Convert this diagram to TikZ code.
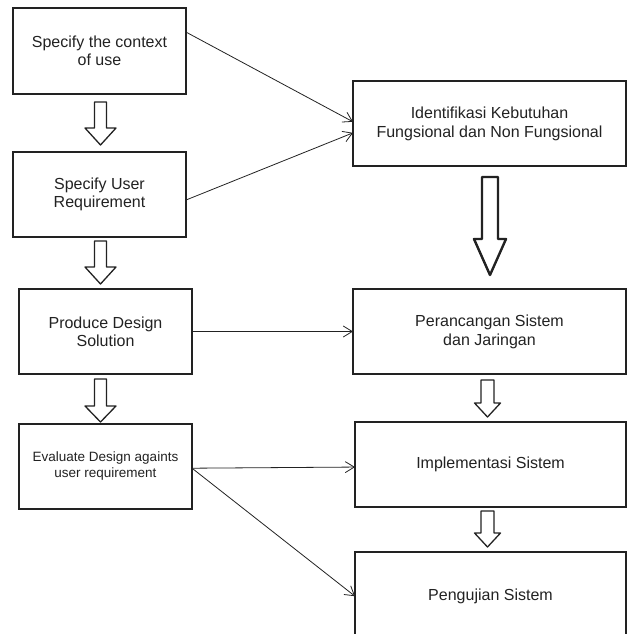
\documentclass[tikz,border=0pt]{standalone}
\usepackage{fontspec}
\setmainfont{Liberation Sans}
\usetikzlibrary{arrows.meta,calc}
\definecolor{ink}{HTML}{222222}
\newcommand\blockarr[7]{% cx, top, headstart, tip, shaft half, head half, line width
  \draw[line width=#7, draw=ink, fill=white, line join=round]
    (#1-#5,#2) -- (#1+#5,#2) -- (#1+#5,#3) -- (#1+#6,#3) -- (#1,#4)
    -- (#1-#6,#3) -- (#1-#5,#3) -- cycle;}
\tikzset{
  box/.style={draw=ink, line width=1.2pt, fill=white, inner sep=0pt, outer sep=0pt,
    align=center, text=ink, minimum height=85pt},
  lbox/.style={box, minimum width=173pt, font=\fontsize{16}{18}\selectfont},
  sbox/.style={box, minimum width=173pt, font=\fontsize{13.5}{16}\selectfont},
  rbox/.style={box, font=\fontsize{16}{19}\selectfont},
  conn/.style={draw=ink, line width=0.8pt, -{Straight Barb[length=9pt,width=11pt,line width=0.8pt]}}
}
\begin{document}
\begin{tikzpicture}[x=1pt,y=-1pt]
\useasboundingbox (0,0) rectangle (627,634);
\clip (0,0) rectangle (627,634);
% left column
\node[lbox, minimum height=86pt] (b1) at (99.5,51) {Specify the context\\of use};
\node[lbox] (b2) at (99.5,194.5) {Specify User\\Requirement};
\node[lbox] (b3) at (105.5,331.5) {Produce Design\\Solution};
\node[sbox] (b4) at (105.5,466.5) {Evaluate Design againts\\user requirement};
% right column
\node[rbox, minimum width=273pt] (r1) at (489.5,123.5) {Identifikasi Kebutuhan\\Fungsional dan Non Fungsional};
\node[rbox, minimum width=273pt] (r2) at (489.5,331.5) {Perancangan Sistem\\dan Jaringan};
\node[rbox, minimum width=271pt] (r3) at (490.5,464.5) {Implementasi Sistem};
\node[rbox, minimum width=271pt, text depth=0pt] (r4) at (490.5,594.5) {Pengujian Sistem};
% block arrows left
\blockarr{100.5}{102}{128}{145}{6}{15.5}{1.3pt}
\blockarr{100.5}{241}{267}{284}{6}{15.5}{1.3pt}
\blockarr{100.5}{379}{406}{422}{6}{15.5}{1.3pt}
% big arrow
\blockarr{490}{177}{239}{275}{8}{16}{2.4pt}
% block arrows right
\blockarr{487.5}{380}{403}{417}{6.5}{13}{1.3pt}
\blockarr{487.5}{511}{533}{547}{6.5}{13}{1.3pt}
% connectors
\draw[conn] ($(b1.north east)!0.28!(b1.south east)$) -- ($(r1.north west)!0.48!(r1.south west)$);
\draw[conn] ($(b2.north east)!0.565!(b2.south east)$) -- ($(r1.north west)!0.61!(r1.south west)$);
\draw[conn] (b3.east) -- (r2.west);
\draw[conn] ($(b4.north east)!0.52!(b4.south east)$) -- ($(r3.north west)!0.53!(r3.south west)$);
\draw[conn] ($(b4.north east)!0.52!(b4.south east)$) -- ($(r4.north west)!0.52!(r4.south west)$);
\end{tikzpicture}
\end{document}
